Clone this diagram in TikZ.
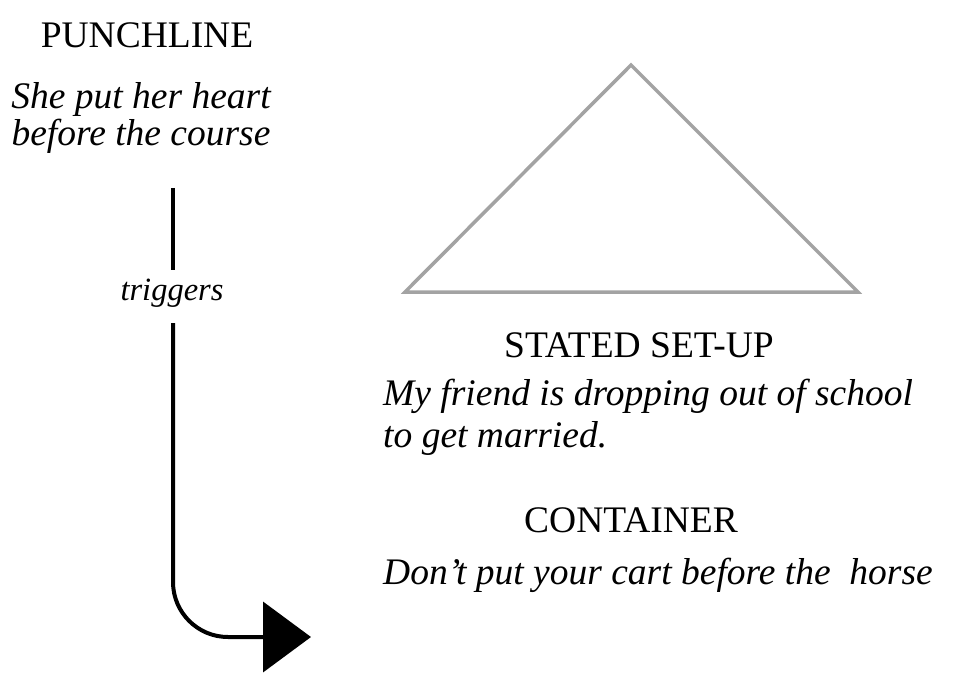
\documentclass[tikz,border=0pt]{standalone}
\usepackage{fontspec}
\setmainfont{Liberation Serif}
\usetikzlibrary{arrows.meta}
\definecolor{trigray}{HTML}{A3A3A3}
\tikzset{
  hdr/.style   = {font=\fontsize{37.5}{38}\selectfont, inner sep=0pt, anchor=base},
  quote/.style = {font=\fontsize{37.5}{37}\selectfont\itshape, inner sep=0pt},
  lbl/.style   = {font=\fontsize{32.5}{34}\selectfont\itshape, inner sep=0pt, anchor=base},
  link/.style  = {draw=black, line width=4pt},
  tri/.style   = {draw=trigray, line width=3.5pt, line join=miter},
}
\begin{document}
\begin{tikzpicture}[x=1pt, y=-1pt]
  \useasboundingbox (0,0) rectangle (966,687);
  % left column
  \node[hdr] (punch) at (147,48) {PUNCHLINE};
  \node[quote, align=center, anchor=base] (punchq) at (141,146)
    {She put her heart\\before the course};
  \node[lbl] (trig) at (172,300) {triggers};
  \coordinate (upA) at (173,188);
  \coordinate (upB) at (173,270);
  \coordinate (dnA) at (173,323);
  \coordinate (bend) at (173,637);
  \coordinate (tip) at (311,637);
  \draw[link] (upA) -- (upB);
  \draw[link, rounded corners=55pt,
        -{Triangle[length=48pt, width=70pt]}] (dnA) -- (bend) -- (tip);
  % triangle
  \coordinate (apex) at (631,65);
  \coordinate (bl) at (405,292);
  \coordinate (br) at (858,292);
  \draw[tri] (apex) -- (br) -- (bl) -- cycle;
  % right column
  \node[hdr] (setup) at (639,357) {STATED SET-UP};
  \node[quote, font=\fontsize{37.5}{42}\selectfont\itshape, align=left,
        anchor=base west] (setupq) at (383,447)
    {My friend is dropping out of school\\to get married.};
  \node[hdr] (cont) at (631,532) {CONTAINER};
  \node[quote, anchor=base west] (contq) at (383,584)
    {Don't put your cart before the\ \ horse};
\end{tikzpicture}
\end{document}
